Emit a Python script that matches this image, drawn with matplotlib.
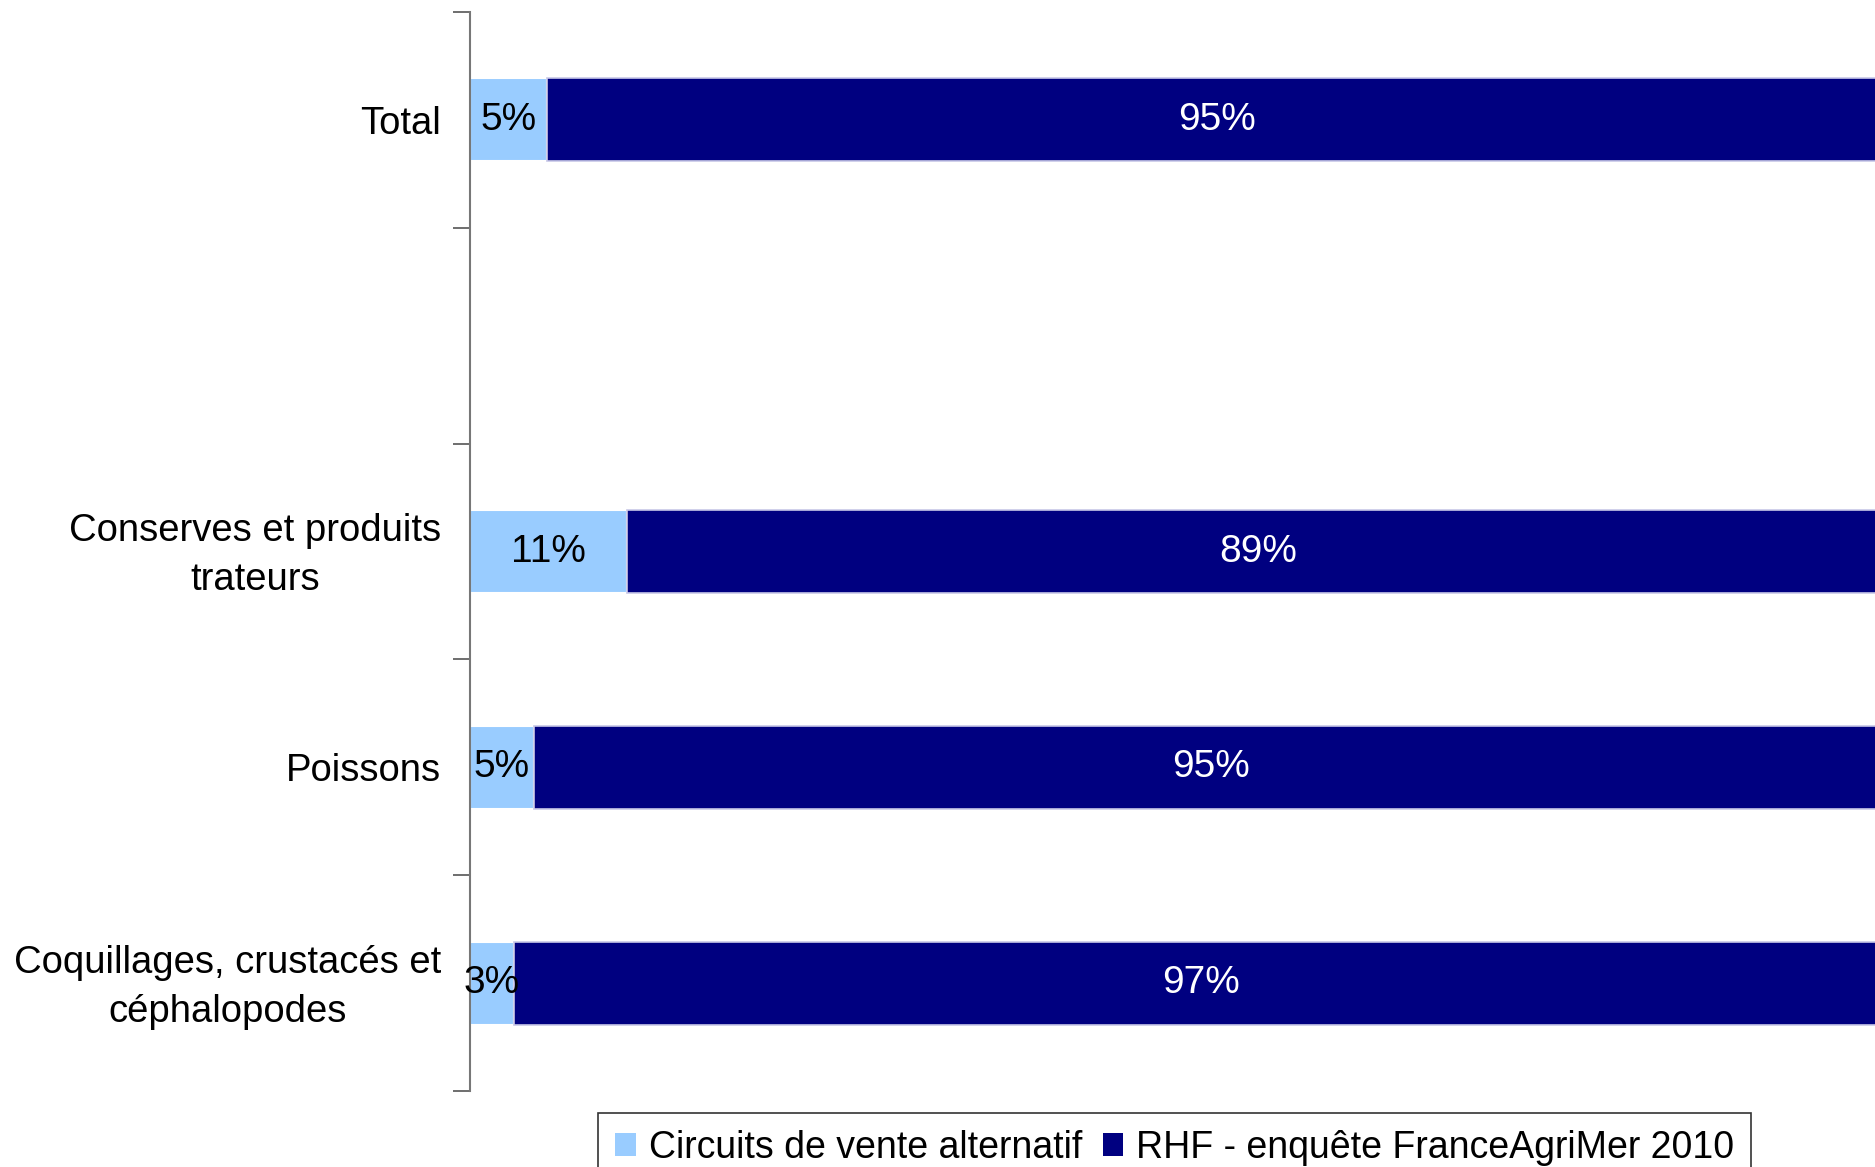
import matplotlib
matplotlib.use('Agg')
import matplotlib.pyplot as plt
import matplotlib.transforms as mtransforms
from matplotlib.patches import Patch

plt.rcParams['font.family'] = ['Liberation Sans', 'DejaVu Sans']

categories = ["Total", "", "Conserves et produits\ntrateurs", "Poissons",
              "Coquillages, crustacés et\ncéphalopodes"]
alt_values = [5.4, None, 11.1, 4.5, 3.1]
rhf_values = [94.6, None, 88.9, 95.5, 96.9]
alt_labels = ["5%", "", "11%", "5%", "3%"]
rhf_labels = ["95%", "", "89%", "95%", "97%"]
series_names = ["Circuits de vente alternatif", "RHF - enquête FranceAgriMer 2010"]

light = '#99CCFF'
navy = '#000080'

fig = plt.figure(figsize=(18.75, 11.67), dpi=100)
ax = fig.add_axes([0.2507, 0.0651, 0.7563, 0.9246])

for i, (a, r) in enumerate(zip(alt_values, rhf_values)):
  if a is None:
    continue
  ax.barh(i, a, height=0.385, color=light, edgecolor='white', linewidth=1.5)
  ax.barh(i, r, left=a, height=0.385, color=navy, edgecolor='#C8C8E8', linewidth=1.2)
  ax.text(a / 2, i, alt_labels[i], ha='center', va='center', fontsize=28, color='black')
  ax.text(a + r / 2, i, rhf_labels[i], ha='center', va='center', fontsize=28, color='white')

ax.set_xlim(0, 100)
ax.set_ylim(4.5, -0.5)

# ticks between the categories, labels at the centres
ax.set_yticks(range(len(categories)))
ax.set_yticklabels(categories, fontsize=27.5, multialignment='center', linespacing=1.45, va='center')
ax.tick_params(axis='y', which='major', length=0, pad=21)
ax.set_yticks([i - 0.5 for i in range(len(categories) + 1)], minor=True)
ax.tick_params(axis='y', which='minor', length=12, width=1.2, color='#555555')
ax.set_xticks([])

# nudge labels down a little
shift = mtransforms.ScaledTranslation(0, -3 / 72, fig.dpi_scale_trans)
for lab in ax.get_yticklabels():
  lab.set_transform(lab.get_transform() + shift)

for s in ['top', 'right', 'bottom']:
  ax.spines[s].set_visible(False)
ax.spines['left'].set_color('#777777')
ax.spines['left'].set_linewidth(1.5)

handles = [Patch(facecolor=light, edgecolor='none'), Patch(facecolor=navy, edgecolor='none')]
leg = fig.legend(handles, series_names, loc='upper left', bbox_to_anchor=(598 / 1875, 1 - 1113 / 1167),
                 ncol=2, fontsize=27, frameon=True, fancybox=False, edgecolor='black',
                 handlelength=0.55, handleheight=0.55, handletextpad=0.35, columnspacing=0.55,
                 borderpad=0.45, borderaxespad=0)
leg.get_frame().set_linewidth(1.2)

fig.savefig('out.png', dpi=100)
